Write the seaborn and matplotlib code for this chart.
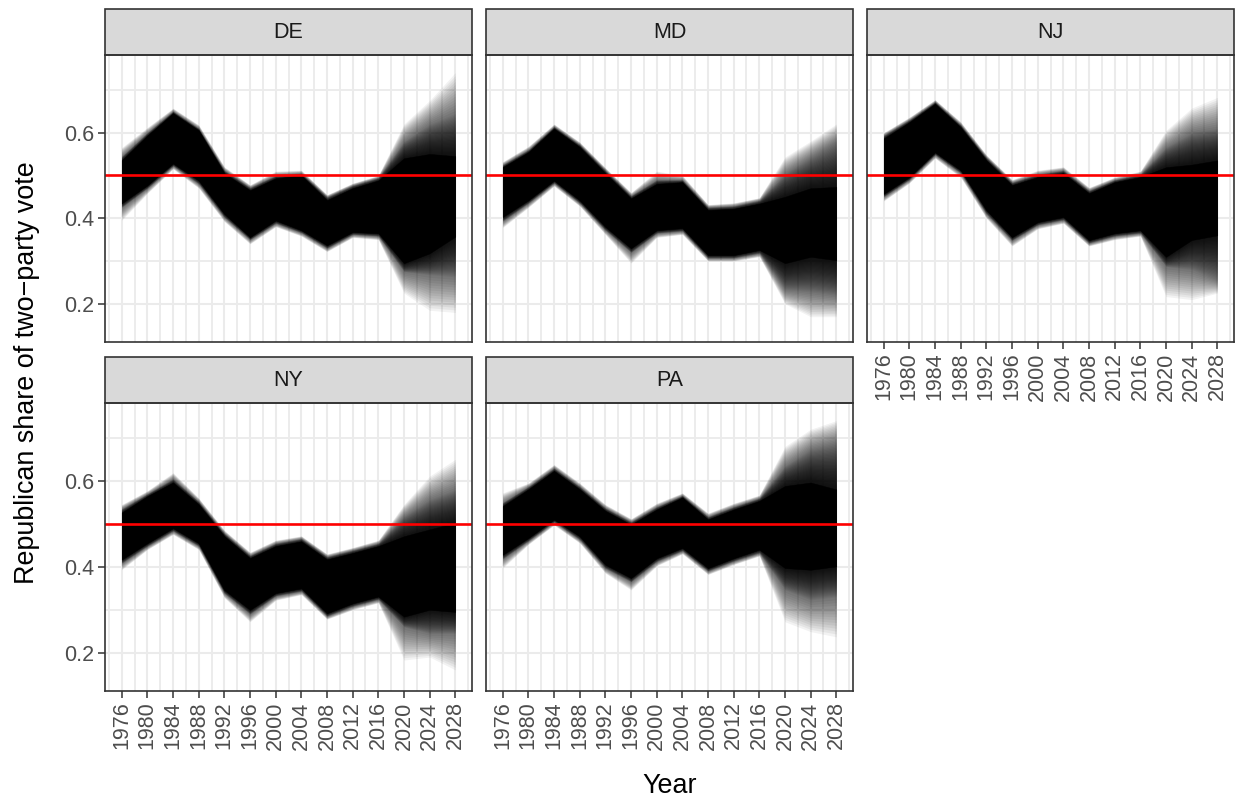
import numpy as np
import pandas as pd
import matplotlib
matplotlib.use("Agg")
import matplotlib.pyplot as plt
from matplotlib.patches import Rectangle
import seaborn as sns

# Election years covered by the simulated trajectories
years = [1976, 1980, 1984, 1988, 1992, 1996, 2000, 2004, 2008, 2012, 2016, 2020, 2024, 2028]
states = ["DE", "MD", "NJ", "NY", "PA"]

# Envelope of the simulated Republican two-party share per state:
# *_core = dense body of the paths, *_mid = edge of the moderately dense
# region, *_out = outermost faint paths.
de_hi_core = [0.535, 0.593, 0.645, 0.605, 0.505, 0.465, 0.493, 0.500, 0.442, 0.470, 0.488, 0.540, 0.550, 0.545]
de_hi_mid  = [0.545, 0.600, 0.650, 0.610, 0.512, 0.472, 0.500, 0.505, 0.450, 0.477, 0.495, 0.580, 0.620, 0.645]
de_hi_out  = [0.565, 0.612, 0.657, 0.618, 0.520, 0.478, 0.510, 0.512, 0.455, 0.482, 0.500, 0.620, 0.675, 0.740]
de_lo_core = [0.435, 0.477, 0.528, 0.488, 0.410, 0.356, 0.395, 0.372, 0.337, 0.368, 0.365, 0.295, 0.318, 0.357]
de_lo_mid  = [0.425, 0.470, 0.522, 0.480, 0.402, 0.350, 0.388, 0.366, 0.330, 0.362, 0.358, 0.275, 0.268, 0.263]
de_lo_out  = [0.395, 0.458, 0.515, 0.470, 0.392, 0.340, 0.380, 0.358, 0.322, 0.355, 0.350, 0.225, 0.185, 0.180]

md_hi_core = [0.519, 0.554, 0.609, 0.566, 0.505, 0.446, 0.480, 0.484, 0.419, 0.422, 0.434, 0.450, 0.470, 0.473]
md_hi_mid  = [0.525, 0.560, 0.614, 0.572, 0.512, 0.453, 0.490, 0.490, 0.426, 0.429, 0.442, 0.505, 0.543, 0.580]
md_hi_out  = [0.532, 0.568, 0.620, 0.578, 0.518, 0.460, 0.510, 0.500, 0.432, 0.436, 0.448, 0.543, 0.580, 0.620]
md_lo_core = [0.403, 0.442, 0.488, 0.442, 0.380, 0.330, 0.372, 0.377, 0.314, 0.314, 0.326, 0.295, 0.310, 0.302]
md_lo_mid  = [0.393, 0.435, 0.482, 0.435, 0.372, 0.320, 0.365, 0.370, 0.307, 0.307, 0.318, 0.233, 0.228, 0.220]
md_lo_out  = [0.378, 0.425, 0.475, 0.428, 0.362, 0.295, 0.355, 0.362, 0.300, 0.300, 0.310, 0.200, 0.170, 0.170]

nj_hi_core = [0.586, 0.624, 0.667, 0.612, 0.535, 0.477, 0.496, 0.505, 0.458, 0.484, 0.496, 0.519, 0.525, 0.535]
nj_hi_mid  = [0.594, 0.630, 0.672, 0.618, 0.542, 0.484, 0.503, 0.512, 0.465, 0.490, 0.503, 0.566, 0.600, 0.610]
nj_hi_out  = [0.600, 0.636, 0.677, 0.625, 0.548, 0.490, 0.512, 0.520, 0.472, 0.496, 0.510, 0.605, 0.657, 0.682]
nj_lo_core = [0.457, 0.496, 0.554, 0.512, 0.419, 0.356, 0.391, 0.403, 0.349, 0.365, 0.372, 0.310, 0.349, 0.360]
nj_lo_mid  = [0.450, 0.490, 0.548, 0.505, 0.410, 0.348, 0.384, 0.396, 0.342, 0.358, 0.365, 0.287, 0.280, 0.256]
nj_lo_out  = [0.440, 0.482, 0.540, 0.495, 0.400, 0.335, 0.375, 0.388, 0.335, 0.350, 0.358, 0.217, 0.210, 0.225]

ny_hi_core = [0.526, 0.564, 0.596, 0.545, 0.471, 0.420, 0.448, 0.459, 0.417, 0.432, 0.448, 0.471, 0.487, 0.502]
ny_hi_mid  = [0.535, 0.570, 0.605, 0.552, 0.478, 0.427, 0.455, 0.466, 0.424, 0.439, 0.455, 0.518, 0.557, 0.580]
ny_hi_out  = [0.545, 0.577, 0.619, 0.560, 0.485, 0.434, 0.462, 0.472, 0.430, 0.445, 0.462, 0.545, 0.611, 0.650]
ny_lo_core = [0.417, 0.455, 0.490, 0.455, 0.346, 0.300, 0.339, 0.350, 0.292, 0.315, 0.331, 0.284, 0.300, 0.295]
ny_lo_mid  = [0.408, 0.448, 0.483, 0.448, 0.338, 0.290, 0.332, 0.343, 0.285, 0.308, 0.324, 0.260, 0.245, 0.245]
ny_lo_out  = [0.393, 0.440, 0.475, 0.440, 0.328, 0.272, 0.322, 0.335, 0.278, 0.300, 0.316, 0.183, 0.190, 0.160]

pa_hi_core = [0.541, 0.580, 0.623, 0.580, 0.530, 0.498, 0.533, 0.561, 0.510, 0.533, 0.553, 0.588, 0.596, 0.580]
pa_hi_mid  = [0.550, 0.587, 0.630, 0.587, 0.537, 0.505, 0.540, 0.566, 0.517, 0.540, 0.560, 0.635, 0.674, 0.689]
pa_hi_out  = [0.572, 0.595, 0.638, 0.595, 0.545, 0.512, 0.548, 0.572, 0.525, 0.548, 0.567, 0.680, 0.720, 0.740]
pa_lo_core = [0.428, 0.467, 0.510, 0.471, 0.405, 0.374, 0.420, 0.444, 0.397, 0.420, 0.440, 0.397, 0.393, 0.401]
pa_lo_mid  = [0.418, 0.460, 0.504, 0.463, 0.396, 0.365, 0.412, 0.437, 0.390, 0.413, 0.432, 0.346, 0.323, 0.330]
pa_lo_out  = [0.397, 0.452, 0.497, 0.455, 0.385, 0.346, 0.402, 0.430, 0.382, 0.405, 0.425, 0.272, 0.249, 0.237]

x_major = [1976, 1980, 1984, 1988, 1992, 1996, 2000, 2004, 2008, 2012, 2016, 2020, 2024, 2028]
x_minor = [1974, 1978, 1982, 1986, 1990, 1994, 1998, 2002, 2006, 2010, 2014, 2018, 2022, 2026, 2030]
y_major = [0.2, 0.4, 0.6]
y_minor = [0.3, 0.5, 0.7]
threshold = 0.5

envelopes = {
    "DE": (de_lo_out, de_lo_mid, de_lo_core, de_hi_core, de_hi_mid, de_hi_out),
    "MD": (md_lo_out, md_lo_mid, md_lo_core, md_hi_core, md_hi_mid, md_hi_out),
    "NJ": (nj_lo_out, nj_lo_mid, nj_lo_core, nj_hi_core, nj_hi_mid, nj_hi_out),
    "NY": (ny_lo_out, ny_lo_mid, ny_lo_core, ny_hi_core, ny_hi_mid, ny_hi_out),
    "PA": (pa_lo_out, pa_lo_mid, pa_lo_core, pa_hi_core, pa_hi_mid, pa_hi_out),
}
cols = ["lo_out", "lo_mid", "lo_core", "hi_core", "hi_mid", "hi_out"]
frames = []
for st in states:
    f = pd.DataFrame(dict(zip(cols, envelopes[st])))
    f.insert(0, "year", years)
    f.insert(0, "state", st)
    frames.append(f)
df = pd.concat(frames, ignore_index=True)

sns.set_theme(style="white")
plt.rcParams["font.family"] = ["Liberation Sans", "DejaVu Sans"]

GRID = "#EBEBEB"
DARK = "#333333"


def draw_fan(data, color=None, label=None):
    ax = plt.gca()
    d = data.sort_values("year")
    x = d["year"].to_numpy(float)
    lo_o, lo_m, lo_c = (d[c].to_numpy(float) for c in ("lo_out", "lo_mid", "lo_core"))
    hi_c, hi_m, hi_o = (d[c].to_numpy(float) for c in ("hi_core", "hi_mid", "hi_out"))
    # faint tail: translucent layers from the mid edge out to the extreme paths
    for t in np.linspace(1.0 / 14, 1.0, 14):
        ax.fill_between(x, lo_m + (lo_o - lo_m) * t, hi_m + (hi_o - hi_m) * t,
                        color="black", alpha=0.05, lw=0, zorder=2)
    # denser shoulder between the solid body and the mid edge
    for t in np.linspace(1.0 / 30, 1.0, 30):
        ax.fill_between(x, lo_c + (lo_m - lo_c) * t, hi_c + (hi_m - hi_c) * t,
                        color="black", alpha=0.05, lw=0, zorder=2)
    # solid body where thousands of paths overlap
    ax.fill_between(x, lo_c, hi_c, color="black", lw=0.3, zorder=3)
    ax.axhline(threshold, color="#FF0000", lw=1.9, zorder=5)


g = sns.FacetGrid(df, col="state", col_wrap=3, col_order=states,
                  sharex=True, sharey=True, height=4, aspect=1.3, despine=False)
g.map_dataframe(draw_fan)
g.set_titles("")
g.set_axis_labels("", "")

fig = g.figure
fig.set_size_inches(12.43, 8.01)
W, H = 1243.0, 801.0
lefts = [105, 486, 867]
width_px = 367
rows_px = [(55, 342), (403, 691)]

for i, ax in enumerate(g.axes.flat):
    r, c = divmod(i, 3)
    top, bot = rows_px[r]
    ax.set_position([lefts[c] / W, 1 - bot / H, width_px / W, (bot - top) / H])
    ax.set_xlim(1973.4, 2030.6)
    ax.set_ylim(0.111, 0.781)
    ax.set_xticks(x_major)
    ax.set_xticks(x_minor, minor=True)
    ax.set_yticks(y_major)
    ax.set_yticks(y_minor, minor=True)
    ax.set_xticklabels([str(v) for v in x_major], rotation=90)
    ax.set_yticklabels([f"{v:.1f}" for v in y_major])
    ax.set_facecolor("white")
    ax.grid(which="major", color=GRID, lw=1.5, zorder=0)
    ax.grid(which="minor", color=GRID, lw=1.3, zorder=0)
    ax.set_axisbelow(True)
    for sp in ax.spines.values():
        sp.set_color(DARK)
        sp.set_linewidth(1.2)
        sp.set_zorder(6)
    show_x = states[i] in ("NJ", "NY", "PA")
    show_y = c == 0
    ax.tick_params(axis="x", which="major", bottom=show_x, labelbottom=show_x,
                   length=5, width=1.1, color=DARK, pad=2.5,
                   labelsize=15.5, labelcolor="#4D4D4D")
    ax.tick_params(axis="y", which="major", left=show_y, labelleft=show_y,
                   length=5, width=1.1, color=DARK, pad=2.5,
                   labelsize=15.5, labelcolor="#4D4D4D")
    ax.tick_params(which="minor", length=0)
    # facet strip
    sh = 46.0 / (bot - top)
    ax.add_patch(Rectangle((0, 1), 1, sh, transform=ax.transAxes, clip_on=False,
                           facecolor="#D9D9D9", edgecolor=DARK, lw=1.2, zorder=6))
    ax.text(0.5, 1 + sh / 2, states[i], transform=ax.transAxes, ha="center",
            va="center", fontsize=15.5, color="#1A1A1A", zorder=7)

fig.text(669.5 / W, 1 - 793 / H, "Year", ha="center", va="baseline",
         fontsize=19.4, color="black")
fig.text(27 / W, 1 - 373 / H, "Republican share of two\u2212party vote", ha="center",
         va="center", rotation=90, fontsize=19.4, color="black")

fig.savefig("out.png", dpi=100, facecolor="white")
